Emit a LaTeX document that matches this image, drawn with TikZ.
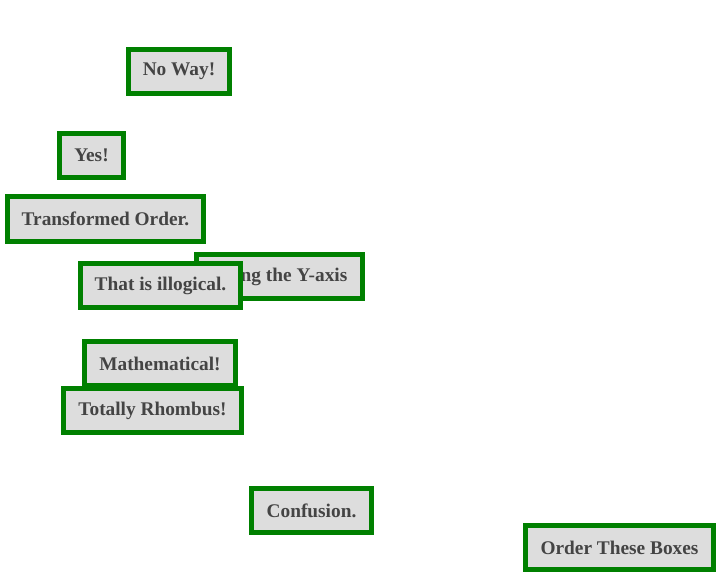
\documentclass[tikz,border=0pt]{standalone}
\usepackage{fontspec}
\setmainfont{Liberation Serif}
\definecolor{boxgreen}{HTML}{008000}
\definecolor{boxfill}{HTML}{DDDDDD}
\definecolor{boxtext}{HTML}{444444}
\tikzset{
  box/.style={draw=boxgreen,line width=3.75pt,fill=boxfill,text=boxtext,
    font=\fontsize{14.5}{16}\selectfont\bfseries,minimum height=33.5pt,inner xsep=11pt}
}
\begin{document}
\begin{tikzpicture}[x=0.75pt,y=-0.75pt]
    % 画布大小
    \useasboundingbox (0,0) rectangle (720,580);

    % 上面的几个方框
    \node[box] (noway) at (179,71.5) {No Way!};
    \node[box] (yes) at (91.5,155.5) {Yes!};
    \node[box] (transformed) at (105.5,219) {Transformed Order.};

    % 互相重叠的方框
    \node[box] (yaxis) at (279.5,276.5) {Along the Y-axis};
    \node[box] (illogical) at (160.5,285.5) {That is illogical.};
    \node[box] (math) at (160,363.5) {Mathematical!};
    \node[box] (rhombus) at (152.5,410.5) {Totally Rhombus!};

    % 下面的方框
    \node[box] (confusion) at (311.5,510.5) {Confusion.};
    \node[box] (order) at (619.5,547.5) {Order These Boxes};
\end{tikzpicture}
\end{document}
